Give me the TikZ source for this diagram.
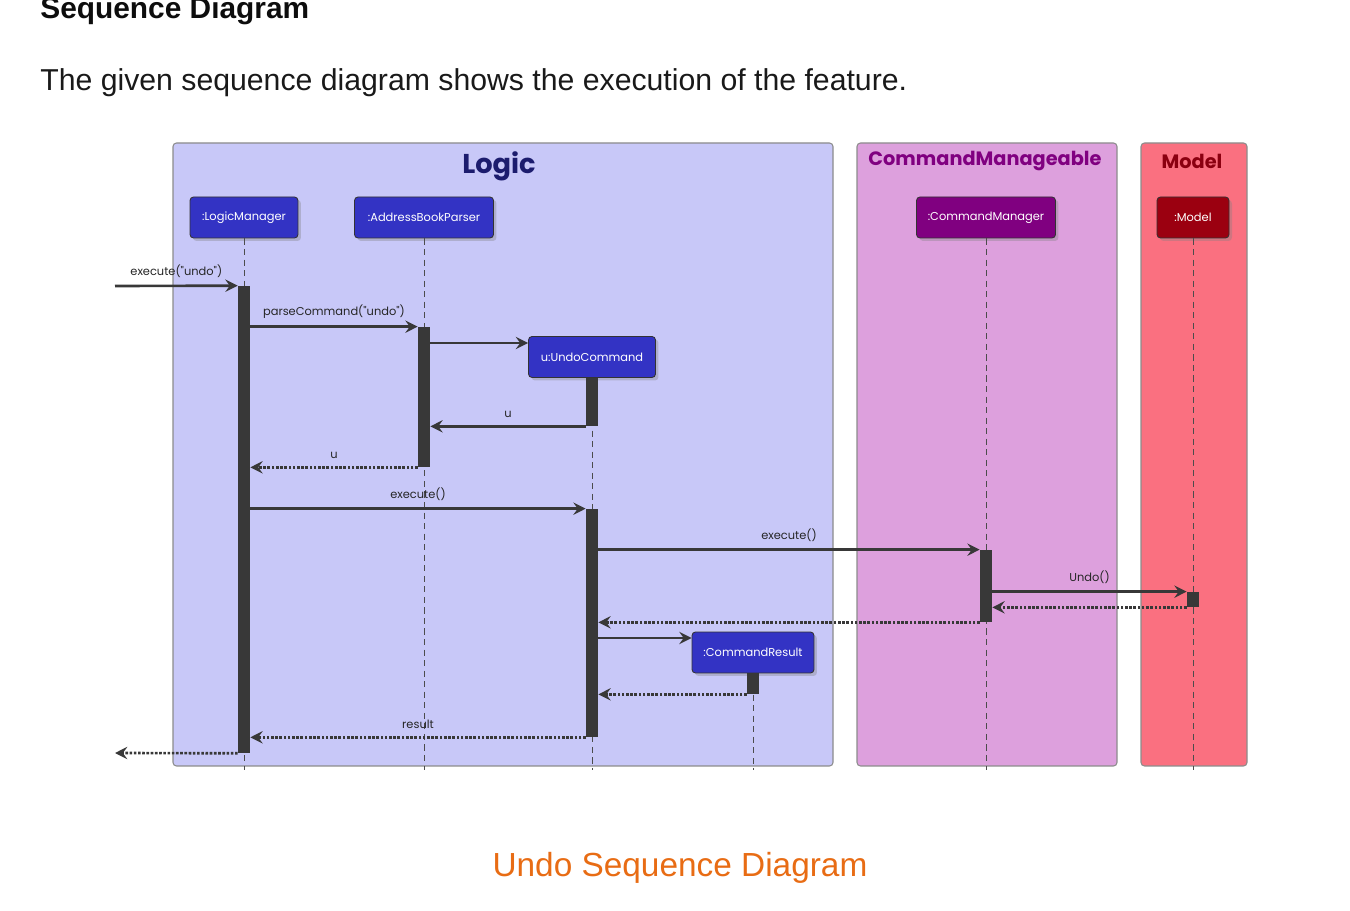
\documentclass[tikz,border=0pt]{standalone}
\usepackage{fontspec}
\setmainfont{Liberation Sans}
\newfontfamily\umlfont{Poppins}
\usepackage{xcolor}
\usetikzlibrary{arrows.meta}
\usetikzlibrary{shadows}

\definecolor{logicbg}{RGB}{200,200,248}
\definecolor{cmbg}{RGB}{221,160,221}
\definecolor{modelbg}{RGB}{250,112,128}
\definecolor{logicfg}{RGB}{28,28,110}
\definecolor{cmfg}{RGB}{128,0,128}
\definecolor{modelfg}{RGB}{139,0,16}
\definecolor{partblue}{RGB}{51,51,196}
\definecolor{partred}{RGB}{155,0,16}
\definecolor{actgray}{RGB}{56,56,56}
\definecolor{capcolor}{RGB}{232,108,20}

\begin{document}
\begin{tikzpicture}[x=0.02cm,y=-0.02cm,
  frame/.style={draw=black!45,line width=0.6pt,rounded corners=2pt},
  group/.style={font=\umlfont\bfseries\fontsize{11}{12}\selectfont,inner sep=0pt},
  part/.style={draw=black!80,line width=0.5pt,rounded corners=2pt,text=white,
    font=\umlfont\fontsize{6.5}{7}\selectfont,minimum height=0.82cm,inner sep=0pt,
    drop shadow={opacity=0.35,shadow xshift=0.06cm,shadow yshift=-0.06cm}},
  life/.style={draw=black!70,line width=0.5pt,dash pattern=on 3.5pt off 2.5pt},
  act/.style={fill=actgray,draw=none,minimum width=0.24cm,inner sep=0pt},
  msg/.style={draw=actgray,line width=1.5pt,-{Stealth[length=7pt,width=7pt,inset=2.5pt]}},
  ret/.style={msg,dash pattern=on 1.5pt off 0.9pt},
  lbl/.style={font=\umlfont\fontsize{6.5}{7}\selectfont,text=black!85,inner sep=0pt,above=4pt}]
\useasboundingbox (0,0) rectangle (1350,911);

\node[anchor=base west,inner sep=0pt,font=\bfseries\fontsize{17}{20}\selectfont,text=black!95] (head) at (40,19) {Sequence Diagram};
\node[anchor=base west,inner sep=0pt,font=\fontsize{17.2}{20}\selectfont,text=black!90] (intro) at (40,91) {The given sequence diagram shows the execution of the feature.};

\draw[frame,fill=logicbg] (173,143) rectangle (833,766);
\draw[frame,fill=cmbg] (857,143) rectangle (1117,766);
\draw[frame,fill=modelbg] (1141,143) rectangle (1247,766);
\node[group,text=logicfg,font=\umlfont\bfseries\fontsize{15.5}{16}\selectfont] (logic) at (499,166) {Logic};
\node[group,text=cmfg] (cmgroup) at (985,161) {CommandManageable};
\node[group,text=modelfg] (modelgroup) at (1192,161) {Model};

\node[part,fill=partblue,minimum width=2.16cm] (lm) at (244,217.5) {:LogicManager};
\node[part,fill=partblue,minimum width=2.78cm] (abp) at (424,217.5) {:AddressBookParser};
\node[part,fill=partblue,minimum width=2.54cm] (uc) at (592,357) {u:UndoCommand};
\node[part,fill=cmfg,minimum width=2.78cm] (cm) at (986,217.5) {:CommandManager};
\node[part,fill=partred,minimum width=1.44cm] (model) at (1193,217.5) {:Model};
\node[part,fill=partblue,minimum width=2.44cm] (cr) at (753,652.5) {:CommandResult};

\draw[life] (lm.south) -- (lm.south |- 0,770);
\draw[life] (abp.south) -- (abp.south |- 0,770);
\draw[life] (uc.south) -- (uc.south |- 0,770);
\draw[life] (cm.south) -- (cm.south |- 0,770);
\draw[life] (model.south) -- (model.south |- 0,770);
\draw[life] (cr.south) -- (cr.south |- 0,770);

\node[act,minimum height=9.34cm] (lmbar) at (244,519.5) {};
\node[act,minimum height=2.8cm] (abpbar) at (424,397) {};
\node[act,minimum height=0.96cm] (ucbar) at (592,402) {};
\node[act,minimum height=4.56cm] (ucexec) at (592,623) {};
\node[act,minimum height=1.44cm] (cmbar) at (986,586) {};
\node[act,minimum height=0.3cm] (modelbar) at (1193,599.5) {};
\node[act,minimum height=0.42cm] (crbar) at (753,683.5) {};

\coordinate (in) at (115,286);
\coordinate (out) at (115,753);

\draw[msg] (in) -- (lmbar.north west) node[lbl,midway] (l1) {execute("undo")};
\draw[msg] (lmbar.east |- abpbar.north) -- (abpbar.north west) node[lbl,midway] (l2) {parseCommand("undo")};
\draw[msg] (abpbar.east |- 0,343) -- (uc.west |- 0,343);
\draw[msg] (ucbar.south west) -- (abpbar.east |- ucbar.south) node[lbl,midway] (l3) {u};
\draw[ret] (abpbar.south west) -- (lmbar.east |- abpbar.south) node[lbl,midway] (l4) {u};
\draw[msg] (lmbar.east |- ucexec.north) -- (ucexec.north west) node[lbl,midway] (l5) {execute()};
\draw[msg] (ucexec.east |- cmbar.north) -- (cmbar.north west) node[lbl,midway] (l6) {execute()};
\draw[msg] (cmbar.east |- modelbar.north) -- (modelbar.north west) node[lbl,midway] (l7) {Undo()};
\draw[ret] (modelbar.south west) -- (cmbar.east |- modelbar.south);
\draw[ret] (cmbar.south west) -- (ucexec.east |- cmbar.south);
\draw[msg] (ucexec.east |- 0,638) -- (cr.west |- 0,638);
\draw[ret] (crbar.south west) -- (ucexec.east |- crbar.south);
\draw[ret] (ucexec.south west) -- (lmbar.east |- ucexec.south) node[lbl,midway] (l8) {result};
\draw[ret] (lmbar.south west) -- (out);

\node[anchor=base,font=\fontsize{19}{22}\selectfont,text=capcolor] (caption) at (680,877) {Undo Sequence Diagram};
\end{tikzpicture}
\end{document}
